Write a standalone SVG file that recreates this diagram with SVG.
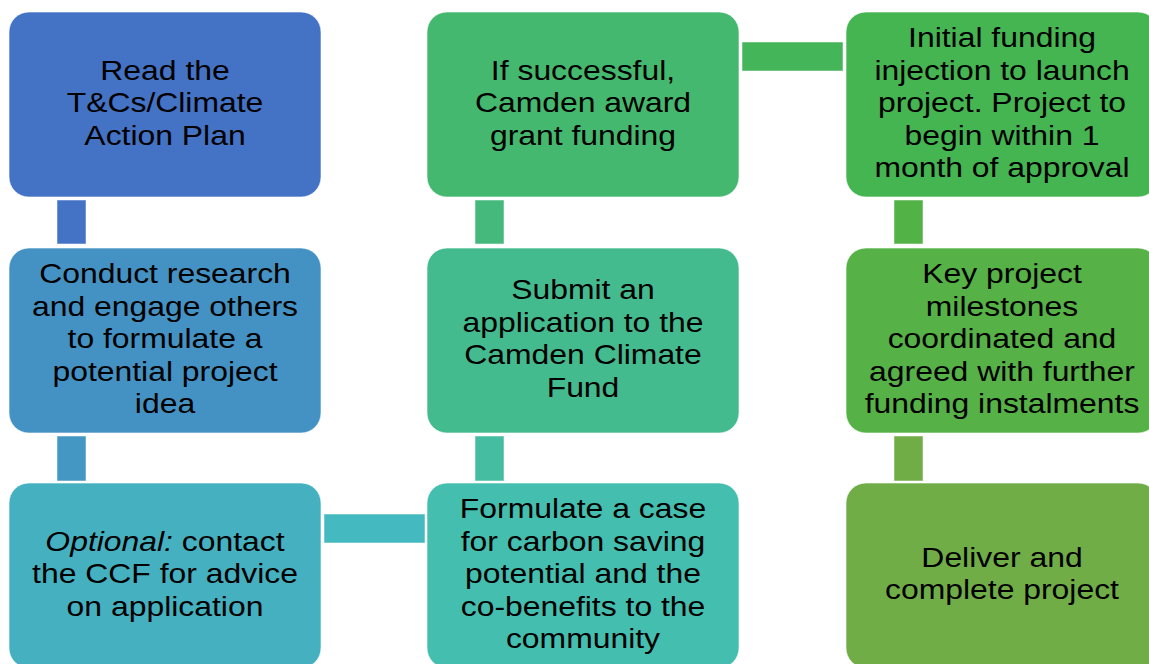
<svg xmlns="http://www.w3.org/2000/svg" width="1149" height="664" viewBox="0 0 1149 664">
<style>
.box{stroke:#ffffff;stroke-opacity:0.6;stroke-width:1}
.conn{stroke:#ffffff;stroke-opacity:0.5;stroke-width:1}
text{font-family:"Liberation Sans",Arial,sans-serif;font-size:27.5px;fill:#000000;text-anchor:middle}
.it{font-style:italic}
</style>
<rect width="1149" height="664" fill="#ffffff"/>
<g id="connectors">
<rect class="conn" x="57" y="200" width="29" height="44" fill="#4472C4"/>
<rect class="conn" x="57" y="436" width="29" height="45" fill="#4497C2"/>
<rect class="conn" x="324" y="514" width="101" height="29" fill="#44B9BF"/>
<rect class="conn" x="475" y="436" width="29" height="45" fill="#44BDA0"/>
<rect class="conn" x="475" y="200" width="29" height="44" fill="#44B97B"/>
<rect class="conn" x="742" y="42" width="101" height="29" fill="#45B559"/>
<rect class="conn" x="894" y="200" width="29" height="44" fill="#52B246"/>
<rect class="conn" x="894" y="436" width="29" height="45" fill="#70AD47"/>
</g>
<g id="n1">
<rect class="box" x="9" y="12" width="312" height="185" rx="20" fill="#4472C4"/>
<g transform="translate(165 -2) scale(1.16 1)">
<text x="0" y="81.7">Read the</text>
<text x="0" y="114.2">T&amp;Cs/Climate</text>
<text x="0" y="146.7">Action Plan</text>
</g>
</g>
<g id="n2">
<rect class="box" x="9" y="248" width="312" height="185" rx="20" fill="#4492C3"/>
<g transform="translate(165 -2) scale(1.16 1)">
<text x="0" y="285.2">Conduct research</text>
<text x="0" y="317.7">and engage others</text>
<text x="0" y="350.2">to formulate a</text>
<text x="0" y="382.7">potential project</text>
<text x="0" y="415.2">idea</text>
</g>
</g>
<g id="n3">
<rect class="box" x="9" y="483" width="312" height="185" rx="20" fill="#44B0C0"/>
<g transform="translate(165 -2) scale(1.16 1)">
<text x="0" y="552.7"><tspan class="it">Optional:</tspan> contact</text>
<text x="0" y="585.2">the CCF for advice</text>
<text x="0" y="617.7">on application</text>
</g>
</g>
<g id="n4">
<rect class="box" x="427" y="483" width="312" height="185" rx="20" fill="#44BEAE"/>
<g transform="translate(583 -2) scale(1.16 1)">
<text x="0" y="520.2">Formulate a case</text>
<text x="0" y="552.7">for carbon saving</text>
<text x="0" y="585.2">potential and the</text>
<text x="0" y="617.7">co-benefits to the</text>
<text x="0" y="650.2">community</text>
</g>
</g>
<g id="n5">
<rect class="box" x="427" y="248" width="312" height="185" rx="20" fill="#44BB8E"/>
<g transform="translate(583 -2) scale(1.16 1)">
<text x="0" y="301.45">Submit an</text>
<text x="0" y="333.95">application to the</text>
<text x="0" y="366.45">Camden Climate</text>
<text x="0" y="398.95">Fund</text>
</g>
</g>
<g id="n6">
<rect class="box" x="427" y="12" width="312" height="185" rx="20" fill="#44B86E"/>
<g transform="translate(583 -2) scale(1.16 1)">
<text x="0" y="81.7">If successful,</text>
<text x="0" y="114.2">Camden award</text>
<text x="0" y="146.7">grant funding</text>
</g>
</g>
<g id="n7">
<rect class="box" x="846" y="12" width="312" height="185" rx="20" fill="#45B551"/>
<g transform="translate(1002 -2) scale(1.16 1)">
<text x="0" y="49.2">Initial funding</text>
<text x="0" y="81.7">injection to launch</text>
<text x="0" y="114.2">project. Project to</text>
<text x="0" y="146.7">begin within 1</text>
<text x="0" y="179.2">month of approval</text>
</g>
</g>
<g id="n8">
<rect class="box" x="846" y="248" width="312" height="185" rx="20" fill="#56B146"/>
<g transform="translate(1002 -2) scale(1.16 1)">
<text x="0" y="285.2">Key project</text>
<text x="0" y="317.7">milestones</text>
<text x="0" y="350.2">coordinated and</text>
<text x="0" y="382.7">agreed with further</text>
<text x="0" y="415.2">funding instalments</text>
</g>
</g>
<g id="n9">
<rect class="box" x="846" y="483" width="312" height="185" rx="20" fill="#70AD47"/>
<g transform="translate(1002 -2) scale(1.16 1)">
<text x="0" y="568.95">Deliver and</text>
<text x="0" y="601.45">complete project</text>
</g>
</g>
</svg>
